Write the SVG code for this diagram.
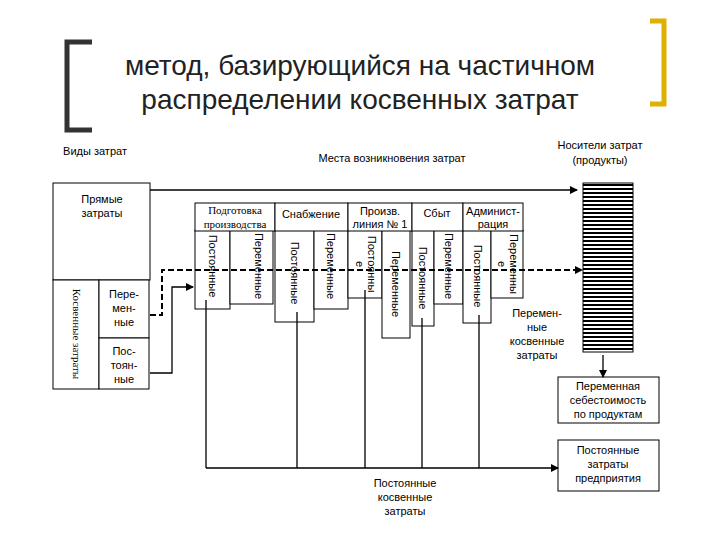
<svg xmlns="http://www.w3.org/2000/svg" width="720" height="540" viewBox="0 0 720 540">
<style>
.s{font-family:"Liberation Sans",Arial,sans-serif;font-size:11px;fill:#000}
.f{font-family:"Liberation Serif","Times New Roman",serif;font-size:11px;fill:#000}
.b{fill:#fff;stroke:#000;stroke-width:1}
.l{fill:none;stroke:#000;stroke-width:1.3}
.d{fill:none;stroke:#000;stroke-width:2;stroke-dasharray:6,3}
</style>
<defs>
<marker id="a" markerWidth="8" markerHeight="8" refX="7" refY="4" orient="auto" markerUnits="userSpaceOnUse"><path d="M0,0L8,4L0,8z" fill="#000"/></marker>
<pattern id="h" width="4" height="4" patternUnits="userSpaceOnUse"><rect width="4" height="2" fill="#000"/></pattern>
</defs>
<rect width="720" height="540" fill="#fff"/>
<g id="title">
<path d="M92,42H67V130H92" fill="none" stroke="#333" stroke-width="5"/>
<path d="M650,21H664V104H650" fill="none" stroke="#e0b000" stroke-width="5"/>
<text x="360" y="75" text-anchor="middle" font-family="Liberation Sans,Arial,sans-serif" font-size="28" fill="#222">метод, базирующийся на частичном</text>
<text x="360" y="109" text-anchor="middle" font-family="Liberation Sans,Arial,sans-serif" font-size="28" fill="#222">распределении косвенных затрат</text>
</g>
<g id="labels">
<text class="s" x="95" y="155" text-anchor="middle">Виды затрат</text>
<text class="s" x="392" y="162" text-anchor="middle">Места возникновения затрат</text>
<text class="s" x="600" y="149" text-anchor="middle">Носители затрат</text>
<text class="s" x="600" y="164" text-anchor="middle">(продукты)</text>
<text class="s" x="537" y="317" text-anchor="middle">Перемен-</text>
<text class="s" x="537" y="331" text-anchor="middle">ные</text>
<text class="s" x="537" y="345" text-anchor="middle">косвенные</text>
<text class="s" x="537" y="359" text-anchor="middle">затраты</text>
<text class="s" x="405" y="487" text-anchor="middle">Постоянные</text>
<text class="s" x="405" y="501" text-anchor="middle">косвенные</text>
<text class="s" x="405" y="515" text-anchor="middle">затраты</text>
</g>
<g id="left">
<rect class="b" x="53" y="183" width="97" height="97"/>
<text class="s" x="102" y="203" text-anchor="middle">Прямые</text>
<text class="s" x="102" y="217" text-anchor="middle">затраты</text>
<rect class="b" x="53" y="280" width="46" height="109"/>
<text class="f" transform="translate(73,334) rotate(90)" text-anchor="middle">Косвенные затраты</text>
<rect class="b" x="99" y="280" width="50" height="58"/>
<text class="s" x="124" y="298" text-anchor="middle">Пере-</text>
<text class="s" x="124" y="312" text-anchor="middle">мен-</text>
<text class="s" x="124" y="326" text-anchor="middle">ные</text>
<rect class="b" x="99" y="338" width="50" height="51"/>
<text class="s" x="124" y="355" text-anchor="middle">Пос-</text>
<text class="s" x="124" y="369" text-anchor="middle">тоян-</text>
<text class="s" x="124" y="383" text-anchor="middle">ные</text>
</g>
<g id="columns">
<rect class="b" x="195" y="230" width="35" height="79"/>
<text class="s" transform="translate(209,266) rotate(90)" text-anchor="middle">Постоянные</text>
<rect class="b" x="230" y="230" width="43" height="74"/>
<text class="s" transform="translate(255,266) rotate(90)" text-anchor="middle">Переменные</text>
<rect class="b" x="275" y="230" width="39" height="92"/>
<text class="s" transform="translate(291,273) rotate(90)" text-anchor="middle">Постоянные</text>
<rect class="b" x="314" y="230" width="34" height="79"/>
<text class="s" transform="translate(327,266) rotate(90)" text-anchor="middle">Переменные</text>
<rect class="b" x="348" y="230" width="34" height="68"/>
<text class="s" transform="translate(368,264) rotate(90)" text-anchor="middle">Постоянны</text>
<text class="s" transform="translate(356,264) rotate(90)" text-anchor="middle">е</text>
<rect class="b" x="382" y="230" width="28" height="108"/>
<text class="s" transform="translate(392,284) rotate(90)" text-anchor="middle">Переменные</text>
<rect class="b" x="412" y="230" width="22" height="96"/>
<text class="s" transform="translate(419,278) rotate(90)" text-anchor="middle">Постоянные</text>
<rect class="b" x="434" y="230" width="29" height="74"/>
<text class="s" transform="translate(445,266) rotate(90)" text-anchor="middle">Переменные</text>
<rect class="b" x="463" y="230" width="28" height="93"/>
<text class="s" transform="translate(474,276) rotate(90)" text-anchor="middle">Постоянные</text>
<rect class="b" x="491" y="230" width="32" height="68"/>
<text class="s" transform="translate(510,264) rotate(90)" text-anchor="middle">Переменны</text>
<text class="s" transform="translate(498,264) rotate(90)" text-anchor="middle">е</text>
</g>
<g id="headers">
<rect class="b" x="195" y="203" width="80" height="28"/>
<text class="f" x="235" y="214" text-anchor="middle" font-size="10">Подготовка</text>
<text class="f" x="235" y="228" text-anchor="middle" font-size="10">производства</text>
<rect class="b" x="275" y="203" width="73" height="28"/>
<text class="s" x="311" y="218" text-anchor="middle">Снабжение</text>
<rect class="b" x="348" y="203" width="64" height="28"/>
<text class="s" x="380" y="215" text-anchor="middle">Произв.</text>
<text class="s" x="380" y="228" text-anchor="middle">линия № 1</text>
<rect class="b" x="412" y="203" width="51" height="28"/>
<text class="s" x="437" y="217" text-anchor="middle">Сбыт</text>
<rect class="b" x="463" y="203" width="60" height="28"/>
<text class="s" x="493" y="215" text-anchor="middle">Админист-</text>
<text class="s" x="493" y="228" text-anchor="middle">рация</text>
</g>
<g id="products">
<rect x="583" y="183" width="50" height="169" fill="url(#h)" stroke="#000"/>
</g>
<g id="varcost">
<rect class="b" x="558" y="377" width="101" height="46"/>
<text class="s" x="608" y="390" text-anchor="middle">Переменная</text>
<text class="s" x="608" y="404" text-anchor="middle">себестоимость</text>
<text class="s" x="608" y="418" text-anchor="middle">по продуктам</text>
</g>
<g id="fixcost">
<rect class="b" x="558" y="440" width="101" height="51"/>
<text class="s" x="608" y="454" text-anchor="middle">Постоянные</text>
<text class="s" x="608" y="468" text-anchor="middle">затраты</text>
<text class="s" x="608" y="482" text-anchor="middle">предприятия</text>
</g>
<g id="connectors">
<path class="l" d="M150,190H577" marker-end="url(#a)"/>
<path class="l" d="M603,355V377" marker-end="url(#a)"/>
<path class="l" d="M206,300V468M297,312V468M365,290V468M422,318V468M479,315V468M206,468H558" marker-end="url(#a)"/>
<path class="l" d="M150,373H172V287H193" marker-end="url(#a)"/>
<path class="d" d="M150,315H162V270H575"/>
<path d="M575,266L583,270L575,274z" fill="#000"/>
</g>
</svg>
